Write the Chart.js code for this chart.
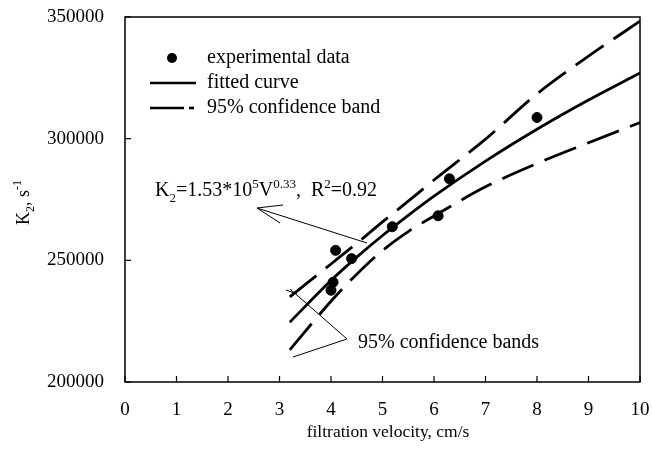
<!DOCTYPE html>
<html>
<head>
<meta charset="utf-8">
<script src="https://cdn.jsdelivr.net/npm/chart.js@4"></script>
<style>
  html, body { margin: 0; padding: 0; background: #fff; }
  #wrap { width: 652px; height: 450px; }
</style>
</head>
<body>
<div id="wrap"><canvas id="myChart" width="652" height="450"></canvas></div>
<script>
// measured points
var expX = [4.0, 4.04, 4.09, 4.4, 5.19, 6.08, 6.3, 8.0];
var expY = [237700, 241000, 254100, 250700, 263800, 268300, 283500, 308700];

// fitted curve and 95% band
var curveX = [3.2, 4, 4.5, 5, 5.5, 6, 7, 8, 9, 10];
var fitY = [224600, 241700, 251300, 260200, 268500, 276400, 290800, 303900, 315900, 327000];
var upperY = [235000, 248500, 257000, 265800, 274300, 283000, 299800, 318400, 333900, 348300];
var lowerY = [213200, 233200, 244300, 254000, 261800, 268200, 280200, 289800, 298300, 306600];

var xTicks = [0, 1, 2, 3, 4, 5, 6, 7, 8, 9, 10];
var yTicks = [200000, 250000, 300000, 350000];

var SERIF = '"Liberation Serif", "Times New Roman", serif';

function pts(xs, ys) {
  var out = [];
  for (var i = 0; i < xs.length; i++) out.push({ x: xs[i], y: ys[i] });
  return out;
}

// draw text made of pieces: [text, 'n'|'sub'|'sup']
function richText(ctx, parts, x, y, size) {
  var cx = x;
  for (var i = 0; i < parts.length; i++) {
    var t = parts[i][0], kind = parts[i][1];
    var fs = kind == 'n' ? size : Math.round(size * 0.65);
    var dy = kind == 'sub' ? size * 0.28 : (kind == 'sup' ? -size * 0.42 : 0);
    ctx.font = fs + 'px ' + SERIF;
    ctx.fillText(t, cx, y + dy);
    cx += ctx.measureText(t).width;
  }
}

function line(ctx, x1, y1, x2, y2) {
  ctx.beginPath();
  ctx.moveTo(x1, y1);
  ctx.lineTo(x2, y2);
  ctx.stroke();
}

var extras = {
  id: 'extras',
  afterDraw: function(chart) {
    var ctx = chart.ctx;
    var a = chart.chartArea;
    var xs = chart.scales.x, ys = chart.scales.y;
    ctx.save();
    ctx.strokeStyle = '#000';
    ctx.fillStyle = '#000';

    // frame
    ctx.lineWidth = 1.5;
    ctx.strokeRect(a.left, a.top, a.right - a.left, a.bottom - a.top);

    // inward ticks
    ctx.lineWidth = 1.2;
    xTicks.forEach(function(v) {
      var px = xs.getPixelForValue(v);
      line(ctx, px, a.bottom, px, a.bottom - 6);
    });
    yTicks.forEach(function(v) {
      var py = ys.getPixelForValue(v);
      line(ctx, a.left, py, a.left + 6, py);
    });

    // legend
    ctx.textBaseline = 'middle';
    ctx.font = '20px ' + SERIF;
    ctx.beginPath();
    ctx.arc(172, 58, 5, 0, Math.PI * 2);
    ctx.fill();
    ctx.fillText('experimental data', 207, 58);
    ctx.lineWidth = 2.6;
    line(ctx, 150, 83, 196, 83);
    ctx.fillText('fitted curve', 207, 83);
    line(ctx, 150, 108, 184, 108);
    line(ctx, 189, 108, 194, 108);
    ctx.fillText('95% confidence band', 207, 108);

    // equation label
    ctx.textBaseline = 'alphabetic';
    richText(ctx, [['K', 'n'], ['2', 'sub'], ['=1.53*10', 'n'], ['5', 'sup'], ['V', 'n'],
      ['0.33', 'sup'], [',  R', 'n'], ['2', 'sup'], ['=0.92', 'n']], 155, 196, 20);

    // arrow to the fitted curve
    ctx.lineWidth = 1;
    line(ctx, 367, 243, 257, 208);
    line(ctx, 257, 208, 280, 223);
    line(ctx, 257, 208, 283, 205);

    // label for the bands
    ctx.font = '20px ' + SERIF;
    ctx.textBaseline = 'middle';
    ctx.fillText('95% confidence bands', 358, 343);
    line(ctx, 347, 339, 290, 289);
    line(ctx, 347, 339, 293, 357);
    line(ctx, 286, 290, 297, 294);

    // axis titles
    ctx.textBaseline = 'alphabetic';
    ctx.font = '17.5px ' + SERIF;
    ctx.textAlign = 'center';
    ctx.fillText('filtration velocity, cm/s', 388, 437);
    ctx.textAlign = 'left';
    ctx.translate(29, 225);
    ctx.rotate(-Math.PI / 2);
    richText(ctx, [['K', 'n'], ['2', 'sub'], [', s', 'n'], ['-1', 'sup']], 0, 0, 18);
    ctx.restore();
  }
};

var ctx = document.getElementById('myChart').getContext('2d');
var myChart = new Chart(ctx, {
  type: 'scatter',
  data: {
    datasets: [
      {
        label: 'experimental data',
        data: pts(expX, expY),
        pointRadius: 5,
        pointBackgroundColor: '#000',
        pointBorderColor: '#000',
        showLine: false
      },
      {
        label: 'fitted curve',
        data: pts(curveX, fitY),
        showLine: true,
        borderColor: '#000',
        borderWidth: 2.8,
        pointRadius: 0,
        cubicInterpolationMode: 'monotone'
      },
      {
        label: '95% upper',
        data: pts(curveX, upperY),
        showLine: true,
        borderColor: '#000',
        borderWidth: 2.8,
        borderDash: [34, 12],
        pointRadius: 0,
        cubicInterpolationMode: 'monotone'
      },
      {
        label: '95% lower',
        data: pts(curveX, lowerY),
        showLine: true,
        borderColor: '#000',
        borderWidth: 2.8,
        borderDash: [34, 12],
        pointRadius: 0,
        cubicInterpolationMode: 'monotone'
      }
    ]
  },
  options: {
    responsive: false,
    animation: false,
    layout: { padding: { top: 17, right: 12, left: 0, bottom: 0 } },
    plugins: {
      legend: { display: false },
      tooltip: { enabled: false }
    },
    scales: {
      x: {
        type: 'linear',
        min: 0,
        max: 10,
        afterFit: function(s) { s.height = 68; s.paddingLeft = 0; s.paddingRight = 0; },
        afterBuildTicks: function(s) { s.ticks = xTicks.map(function(v) { return { value: v }; }); },
        grid: { display: false },
        border: { display: false },
        ticks: { color: '#000', padding: 9, maxRotation: 0, font: { family: SERIF, size: 19 } }
      },
      y: {
        type: 'linear',
        min: 200000,
        max: 350000,
        afterFit: function(s) { s.width = 125; s.paddingTop = 0; s.paddingBottom = 0; },
        afterBuildTicks: function(s) { s.ticks = yTicks.map(function(v) { return { value: v }; }); },
        grid: { display: false },
        border: { display: false },
        ticks: {
          color: '#000',
          padding: 13,
          font: { family: SERIF, size: 19 },
          callback: function(v) { return String(v); }
        }
      }
    }
  },
  plugins: [extras]
});
</script>
</body>
</html>
